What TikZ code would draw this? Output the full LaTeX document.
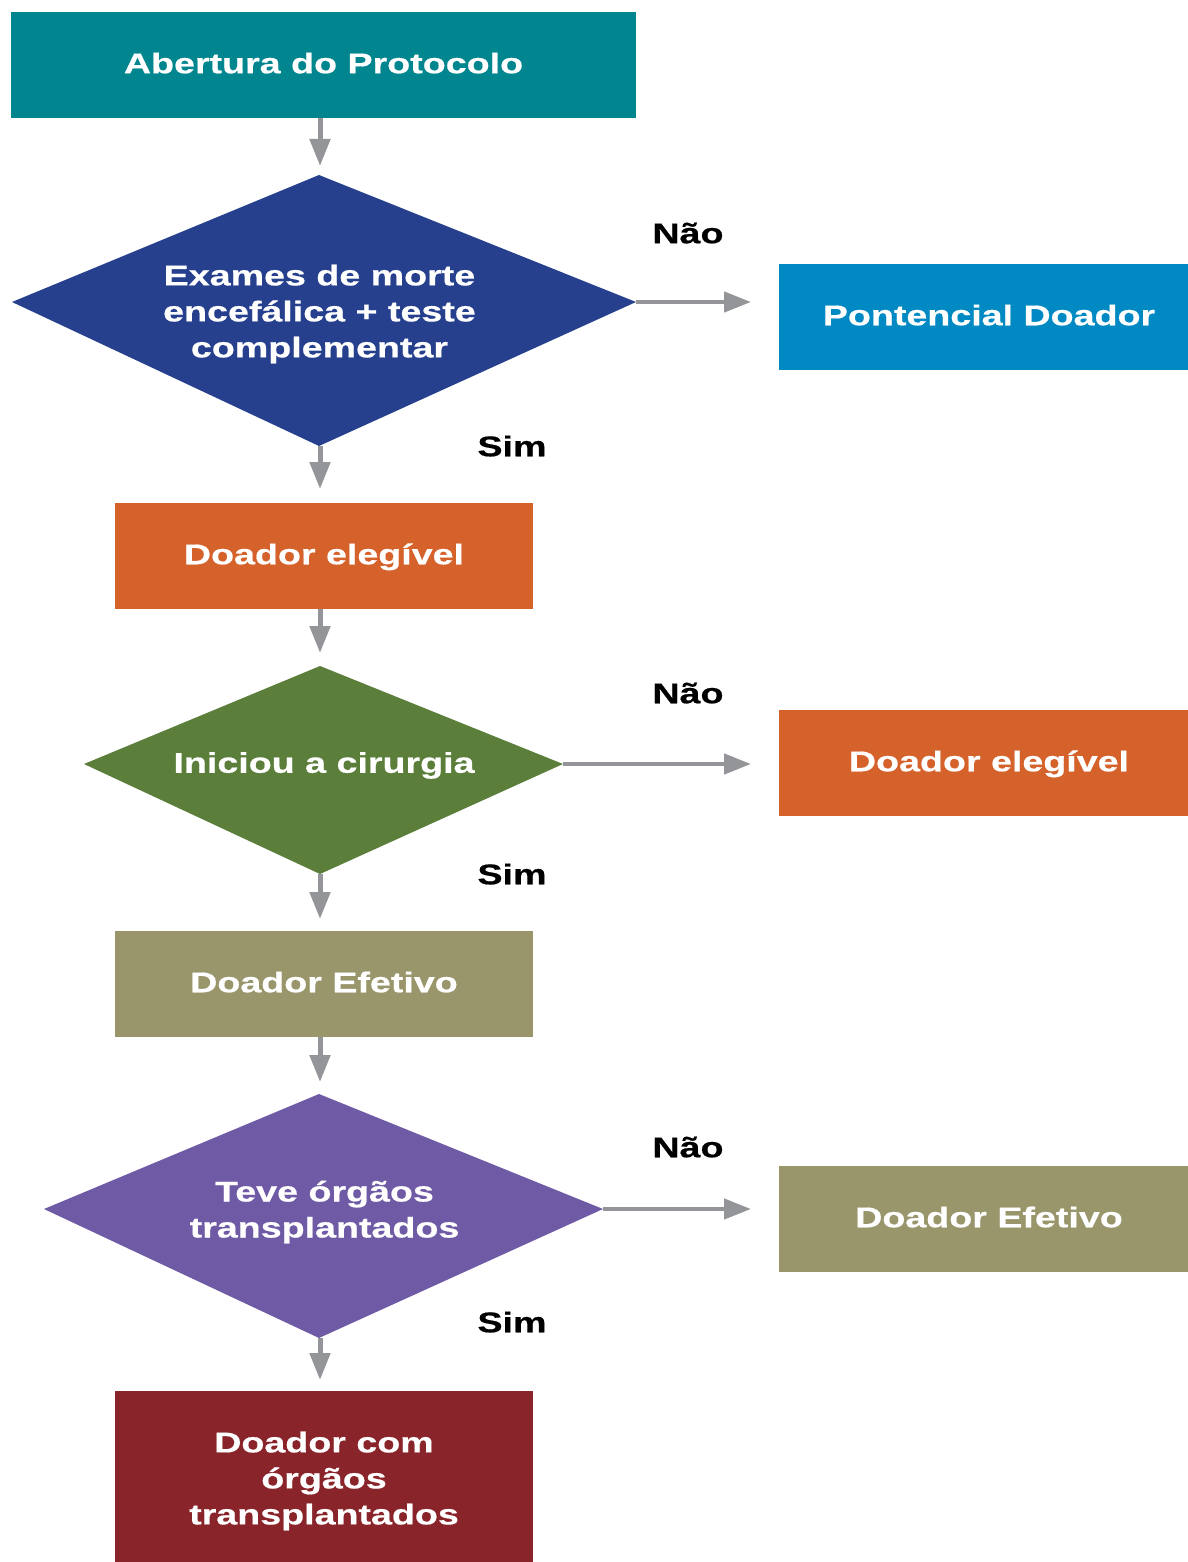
\documentclass[tikz,border=0pt]{standalone}
\usepackage{fontspec}
\setmainfont{Liberation Sans}[FakeStretch=1.32, BoldFeatures={FakeBold=0.6}]
\usetikzlibrary{arrows.meta}
\definecolor{cteal}{HTML}{01858F}
\definecolor{cnavy}{HTML}{26408E}
\definecolor{cblue}{HTML}{0089C2}
\definecolor{corange}{HTML}{D5612B}
\definecolor{cgreen}{HTML}{5B7E3B}
\definecolor{colive}{HTML}{9A966C}
\definecolor{cpurple}{HTML}{6F5AA5}
\definecolor{cred}{HTML}{88242A}
\definecolor{cgray}{HTML}{939598}
\begin{document}
\begin{tikzpicture}[x=1pt,y=-1pt,
  lbl/.style={font=\fontsize{28.5}{36}\selectfont\bfseries},
  wt/.style={lbl,text=white},
  one/.style={text height=20.5pt,text depth=0pt},
  box/.style={wt,text height=16.5pt,text depth=0pt,inner sep=0pt,minimum height=106pt},
  lbox/.style={box,minimum width=418pt},
  rbox/.style={box,minimum width=420pt},
  dtext/.style={wt,inner sep=0pt,align=center},
  conn/.style={draw=cgray,line width=5pt,-{Triangle[length=27pt,width=20pt]}},
  ans/.style={lbl,one,text=black,inner sep=0pt}]
\useasboundingbox (0,0) rectangle (1187,1562);

% coordinates of diamond vertices
\coordinate (d1t) at (319,175);
\coordinate (d1r) at (636,302);
\coordinate (d1b) at (319,446);
\coordinate (d1l) at (12,302);
\coordinate (d2t) at (320,666);
\coordinate (d2r) at (563,764);
\coordinate (d2b) at (320,874);
\coordinate (d2l) at (84,764);
\coordinate (d3t) at (319,1094);
\coordinate (d3r) at (603,1209);
\coordinate (d3b) at (319,1338);
\coordinate (d3l) at (44,1209);

% diamonds
\fill[cnavy] (d1t) -- (d1r) -- (d1b) -- (d1l) -- cycle;
\fill[cgreen] (d2t) -- (d2r) -- (d2b) -- (d2l) -- cycle;
\fill[cpurple] (d3t) -- (d3r) -- (d3b) -- (d3l) -- cycle;

\node[dtext] (q1) at (319.5,314) {Exames de morte\\encefálica + teste\\complementar};
\node[dtext,one] (q2) at (324,762.5) {Iniciou a cirurgia};
\node[dtext] (q3) at (324.5,1212) {Teve órgãos\\transplantados};

% boxes
\node[box,fill=cteal,minimum width=625pt] (b1) at (323.5,65) {Abertura do Protocolo};
\node[rbox,fill=cblue] (n1) at (989,317) {Pontencial Doador};
\node[lbox,fill=corange] (b2) at (324,556) {Doador elegível};
\node[rbox,fill=corange] (n2) at (989,763) {Doador elegível};
\node[lbox,fill=colive] (b3) at (324,984) {Doador Efetivo};
\node[rbox,fill=colive] (n3) at (989,1219) {Doador Efetivo};
\node[wt,inner sep=0pt,align=center,fill=cred,minimum width=418pt,minimum height=180pt] (b4) at (324,1481) {Doador com\\órgãos\\transplantados};

% answer labels
\node[ans] (no1) at (688,233) {Não};
\node[ans] (no2) at (688,693) {Não};
\node[ans] (no3) at (688,1147) {Não};
\node[ans] (si1) at (512,446) {Sim};
\node[ans] (si2) at (512,874) {Sim};
\node[ans] (si3) at (512,1322) {Sim};

% arrow tip coordinates
\coordinate (a1s) at (320,118);
\coordinate (a1e) at (320,166);
\coordinate (a2s) at (320,446);
\coordinate (a2e) at (320,489);
\coordinate (a3s) at (320,609);
\coordinate (a3e) at (320,653);
\coordinate (a4s) at (320,874);
\coordinate (a4e) at (320,919);
\coordinate (a5s) at (320,1037);
\coordinate (a5e) at (320,1082);
\coordinate (a6s) at (320,1338);
\coordinate (a6e) at (320,1380);
\coordinate (h1e) at (751,302);
\coordinate (h2e) at (751,764);
\coordinate (h3e) at (751,1209);

\draw[conn] (a1s) -- (a1e);
\draw[conn] (a2s) -- (a2e);
\draw[conn] (a3s) -- (a3e);
\draw[conn] (a4s) -- (a4e);
\draw[conn] (a5s) -- (a5e);
\draw[conn] (a6s) -- (a6e);
\draw[conn,line width=4.5pt] (d1r) -- (h1e);
\draw[conn,line width=4.5pt] (d2r) -- (h2e);
\draw[conn,line width=4.5pt] (d3r) -- (h3e);
\end{tikzpicture}
\end{document}
